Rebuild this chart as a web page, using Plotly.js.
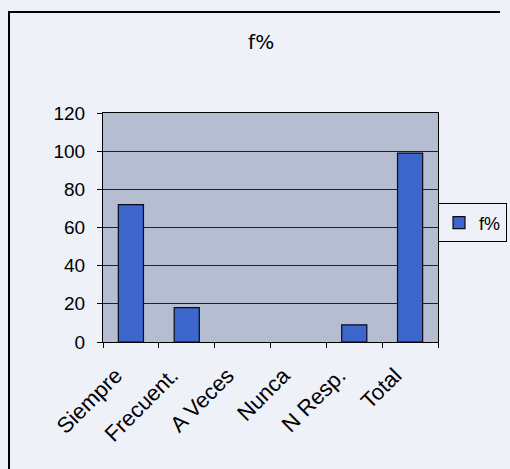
<!DOCTYPE html>
<html>
<head>
<meta charset="utf-8">
<script src="https://cdn.plot.ly/plotly-3.0.1.min.js"></script>
<style>
html,body{margin:0;padding:0;background:#eef1f8;overflow:hidden;}
#wrap{position:relative;width:510px;height:469px;overflow:hidden;}
#ftop{position:absolute;left:8px;top:11px;width:492px;height:2px;background:#000;pointer-events:none;}
#fleft{position:absolute;left:8px;top:11px;width:2px;height:458px;background:#000;pointer-events:none;}
</style>
</head>
<body>
<div id="wrap">
<div id="chart" style="width:510px;height:469px;"></div>
<div id="ftop"></div>
<div id="fleft"></div>
</div>
<script>
const categories = ["Siempre", "Frecuent.", "A Veces", "Nunca", "N Resp.", "Total"];
const fPercent = [72, 18, 0, 0, 9, 99];
const yTicks = [0, 20, 40, 60, 80, 100, 120];
const seriesName = "f%";
const chartTitle = "f%";

const trace = {
  type: "bar",
  x: categories,
  y: fPercent,
  name: seriesName,
  marker: {color: "#3d66cc", line: {color: "#0a0a1a", width: fPercent.map(v => v > 0 ? 1.2 : 0)}},
  showlegend: true
};

const layout = {
  width: 510, height: 469,
  margin: {l: 103, r: 72, t: 113, b: 127, autoexpand: false},
  paper_bgcolor: "#eef1f8",
  plot_bgcolor: "#b5bdd0",
  font: {family: "Liberation Sans, Arial, sans-serif", color: "#000", size: 18},
  title: {text: chartTitle, x: 0.512, xref: "container", xanchor: "center", y: 0.91, yanchor: "middle", font: {size: 20, family: "DejaVu Sans, sans-serif"}},
  bargap: 0.55,
  xaxis: {
    type: "category",
    tickangle: -45,
    tickfont: {size: 22},
    ticks: "outside", ticklen: 5, tickcolor: "#000",
    tickson: "boundaries",
    ticklabelstandoff: 11,
    ticklabelshift: -15,
    showline: true, linecolor: "#000", linewidth: 1, mirror: true,
    showgrid: false
  },
  yaxis: {
    range: [0, 120],
    tickvals: yTicks,
    tickfont: {size: 19},
    ticks: "outside", ticklen: 5, tickcolor: "#000",
    ticklabelstandoff: 8,
    showline: true, linecolor: "#000", linewidth: 1, mirror: true,
    showgrid: true, gridcolor: "#222", gridwidth: 1,
    zeroline: false
  },
  legend: {
    x: 1.206, xanchor: "right", y: 0.52, yanchor: "middle",
    bgcolor: "#eef1f8", bordercolor: "#000", borderwidth: 1,
    font: {size: 18}, itemwidth: 30
  }
};

Plotly.newPlot("chart", [trace], layout, {displayModeBar: false, staticPlot: true});
</script>
</body>
</html>
